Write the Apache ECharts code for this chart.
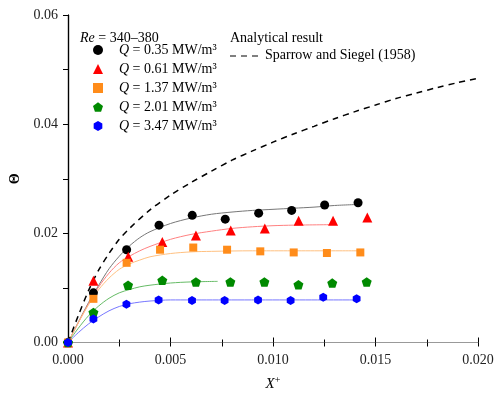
<!DOCTYPE html>
<html>
<head>
<meta charset="utf-8">
<script src="https://cdn.jsdelivr.net/npm/echarts@6/dist/echarts.min.js"></script>
<style>html,body{margin:0;padding:0;background:#fff}#c{width:499px;height:397px}</style>
</head>
<body>
<div id="c"></div>
<script>
// ---- data ----
var xTicks = [0, 0.005, 0.010, 0.015, 0.020];
var yTicks = [0, 0.02, 0.04, 0.06];
var seriesNames = ['0.35', '0.61', '1.37', '2.01', '3.47'];

var q035 = [[0,0],[0.00124,0.0091],[0.00286,0.0170],[0.00444,0.0215],[0.00606,0.0233],[0.00767,0.0226],[0.0093,0.0237],[0.01091,0.0242],[0.01252,0.0252],[0.01415,0.0256]];
var q061 = [[0,0],[0.00124,0.0113],[0.00294,0.0157],[0.0046,0.0184],[0.00624,0.0196],[0.00794,0.0205],[0.0096,0.0209],[0.01125,0.0223],[0.01293,0.0223],[0.0146,0.0229]];
var q137 = [[0,0],[0.00124,0.0080],[0.00286,0.0146],[0.00449,0.0170],[0.00611,0.0174],[0.00776,0.0170],[0.00938,0.0167],[0.01101,0.0165],[0.01263,0.0164],[0.01426,0.0165]];
var q201 = [[0,0],[0.00124,0.0055],[0.00293,0.0105],[0.0046,0.0114],[0.00624,0.0111],[0.00792,0.0111],[0.00958,0.0111],[0.01124,0.0106],[0.01289,0.0109],[0.01457,0.0111]];
var q347 = [[0,0],[0.00124,0.0043],[0.00285,0.0070],[0.00442,0.0078],[0.00605,0.0077],[0.00764,0.0077],[0.00927,0.0078],[0.01086,0.0077],[0.01245,0.0083],[0.01408,0.0080]];

// fitted curves, read along the thin lines of the reference
var fit035 = [[0,0],[0.0005,0.0037],[0.001,0.0073],[0.0015,0.0105],[0.002,0.0135],[0.0025,0.0158],[0.003,0.0177],[0.0035,0.0192],[0.004,0.0203],[0.005,0.0218],[0.006,0.0228],[0.007,0.0235],[0.008,0.0239],[0.009,0.0242],[0.010,0.0244],[0.011,0.0246],[0.012,0.0248],[0.013,0.0251],[0.0142,0.0253]];
var fit061 = [[0,0],[0.0005,0.0036],[0.001,0.0071],[0.0015,0.0102],[0.002,0.0127],[0.0025,0.0146],[0.003,0.0158],[0.0035,0.0168],[0.004,0.0176],[0.005,0.0189],[0.006,0.0198],[0.007,0.0204],[0.008,0.0209],[0.009,0.0212],[0.010,0.0214],[0.011,0.0215],[0.0131,0.0216]];
var fit137 = [[0,0],[0.0005,0.0036],[0.001,0.0069],[0.0015,0.0097],[0.002,0.0118],[0.0025,0.0134],[0.003,0.0144],[0.0035,0.0151],[0.004,0.0157],[0.005,0.0163],[0.006,0.0166],[0.007,0.0167],[0.009,0.0168],[0.0143,0.0168]];
var fit201 = [[0,0],[0.0005,0.0026],[0.001,0.0049],[0.0015,0.0067],[0.002,0.0081],[0.0025,0.0091],[0.003,0.0097],[0.0035,0.0102],[0.004,0.0105],[0.005,0.0109],[0.006,0.0111],[0.0073,0.0112]];
var fit347 = [[0,0],[0.0005,0.0018],[0.001,0.0034],[0.0015,0.0047],[0.002,0.0058],[0.0025,0.0066],[0.003,0.0071],[0.0035,0.0074],[0.004,0.0076],[0.005,0.0078],[0.006,0.0078],[0.0141,0.0078]];

var sparrow = [[0,0],[0.0005,0.0049],[0.001,0.0095],[0.0015,0.0133],[0.002,0.0163],[0.0025,0.0189],[0.003,0.0209],[0.004,0.0243],[0.005,0.0270],[0.006,0.0293],[0.007,0.0314],[0.008,0.0334],[0.009,0.0351],[0.010,0.0367],[0.011,0.0382],[0.012,0.0396],[0.013,0.0410],[0.014,0.0423],[0.015,0.0435],[0.016,0.0447],[0.017,0.0457],[0.018,0.0467],[0.019,0.0476],[0.020,0.0484]];

// ---- styling ----
var serif = 'Liberation Serif';
var colors = ['#000000', '#ff0000', '#ff8c1a', '#008a00', '#0000ff'];
var fitColors = ['#777777', '#ff8080', '#ffc080', '#66bb66', '#7777ff'];
var symbols = ['circle', 'triangle', 'rect',
  'path://M0,-10 L9.51,-3.09 L5.88,8.09 L-5.88,8.09 L-9.51,-3.09 Z',
  'path://M0,-10 L8.66,-5 L8.66,5 L0,10 L-8.66,5 L-8.66,-5 Z'];
var sizes = [9, 10, 8, 10, 9];
var pts = [q035, q061, q137, q201, q347];
var fits = [fit035, fit061, fit137, fit201, fit347];

var series = [];
fits.forEach(function (f, i) {
  series.push({
    type: 'line', name: 'fit' + i, data: f, smooth: 0.3, symbol: 'none',
    lineStyle: { color: fitColors[i], width: 1 }, z: 1, silent: true
  });
});
series.push({
  type: 'line', name: 'Sparrow and Siegel (1958)', data: sparrow, smooth: 0.3, symbol: 'none',
  lineStyle: { color: '#000', width: 1.5, type: [6, 5] }, z: 2
});
pts.forEach(function (p, i) {
  series.push({
    type: 'scatter', name: 'Q = ' + seriesNames[i] + ' MW/m³', data: p,
    symbol: symbols[i], symbolSize: sizes[i], symbolKeepAspect: true,
    itemStyle: { color: colors[i], opacity: 1 }, z: 3 + i
  });
});

var legendNames = seriesNames.map(function (s) { return 'Q = ' + s + ' MW/m³'; });

var chart = echarts.init(document.getElementById('c'));
chart.setOption({
  animation: false,
  backgroundColor: '#fff',
  textStyle: { fontFamily: serif },
  grid: { left: 68, right: 21, top: 15, bottom: 53 },
  title: [
    { text: '{i|Re} = 340–380', left: 75, top: 26,
      textStyle: { fontFamily: serif, fontSize: 14, fontWeight: 'normal', color: '#000',
        rich: { i: { fontFamily: serif, fontSize: 14, fontStyle: 'italic', color: '#000' } } } },
    { text: 'Analytical result', left: 225, top: 26,
      textStyle: { fontFamily: serif, fontSize: 14, fontWeight: 'normal', color: '#000' } }
  ],
  legend: [
    {
      data: legendNames.map(function (n, i) { return { name: n, icon: symbols[i] }; }),
      orient: 'vertical', left: 88, top: 37, itemGap: 3, itemWidth: 10, itemHeight: 10,
      formatter: function (n) { return '{i|Q} ' + n.slice(2); },
      textStyle: { fontFamily: serif, fontSize: 14, color: '#000', padding: [0, 0, 0, 11], lineHeight: 16,
        rich: { i: { fontFamily: serif, fontSize: 14, fontStyle: 'italic', color: '#000', lineHeight: 16 } } }
    }
  ],
  graphic: [
    { type: 'line', shape: { x1: 230, y1: 56, x2: 260, y2: 56 },
      style: { stroke: '#000', lineWidth: 1, lineDash: [6, 5] }, silent: true },
    { type: 'text', left: 265, top: 48,
      style: { text: 'Sparrow and Siegel (1958)', font: '14px "Liberation Serif"', fill: '#000' }, silent: true }
  ],
  xAxis: [
    {
      type: 'value', min: 0, max: 0.02, interval: 0.005, position: 'bottom',
      name: '{i|X}{s|+}', nameLocation: 'middle', nameGap: 33,
      nameTextStyle: { fontFamily: serif, fontSize: 15, color: '#000',
        rich: { i: { fontFamily: serif, fontStyle: 'italic', fontSize: 15, color: '#000' },
                s: { fontFamily: serif, fontSize: 10, color: '#000', verticalAlign: 'top', padding: [0, 0, 8, 0] } } },
      axisLine: { show: true, lineStyle: { color: '#000', width: 1.2 } },
      axisTick: { show: true, inside: true, length: 5, lineStyle: { color: '#000' } },
      minorTick: { show: true, splitNumber: 2, length: 3, lineStyle: { color: '#000' } },
      axisLabel: { fontFamily: serif, fontSize: 14, color: '#222', margin: 11,
        formatter: function (v) { return v.toFixed(3); } },
      splitLine: { show: false }
    },
    {
      type: 'value', min: 0, max: 0.02, interval: 0.0025, position: 'top',
      axisLine: { show: true, lineStyle: { color: '#999', width: 1 } },
      axisTick: { show: true, inside: true, length: 4, lineStyle: { color: '#000' } },
      axisLabel: { show: false }, splitLine: { show: false }
    }
  ],
  yAxis: [
    {
      type: 'value', min: 0, max: 0.06, interval: 0.02, position: 'left',
      name: 'Θ', nameLocation: 'middle', nameGap: 41, nameRotate: 90,
      nameTextStyle: { fontFamily: serif, fontSize: 14, fontWeight: 'bold', color: '#000' },
      axisLine: { show: true, lineStyle: { color: '#000', width: 1.2 } },
      axisTick: { show: true, inside: false, length: 5, lineStyle: { color: '#000' } },
      minorTick: { show: true, splitNumber: 2, length: 4, lineStyle: { color: '#000' } },
      axisLabel: { fontFamily: serif, fontSize: 14, color: '#222', margin: 10,
        formatter: function (v) { return v.toFixed(2); } },
      splitLine: { show: false }
    },
    {
      type: 'value', min: 0, max: 0.06, interval: 0.01, position: 'right',
      axisLine: { show: true, lineStyle: { color: '#000', width: 1.2 } },
      axisTick: { show: true, inside: true, length: 5, lineStyle: { color: '#000' } },
      axisLabel: { show: false }, splitLine: { show: false }
    }
  ],
  series: series
});
</script>
</body>
</html>
